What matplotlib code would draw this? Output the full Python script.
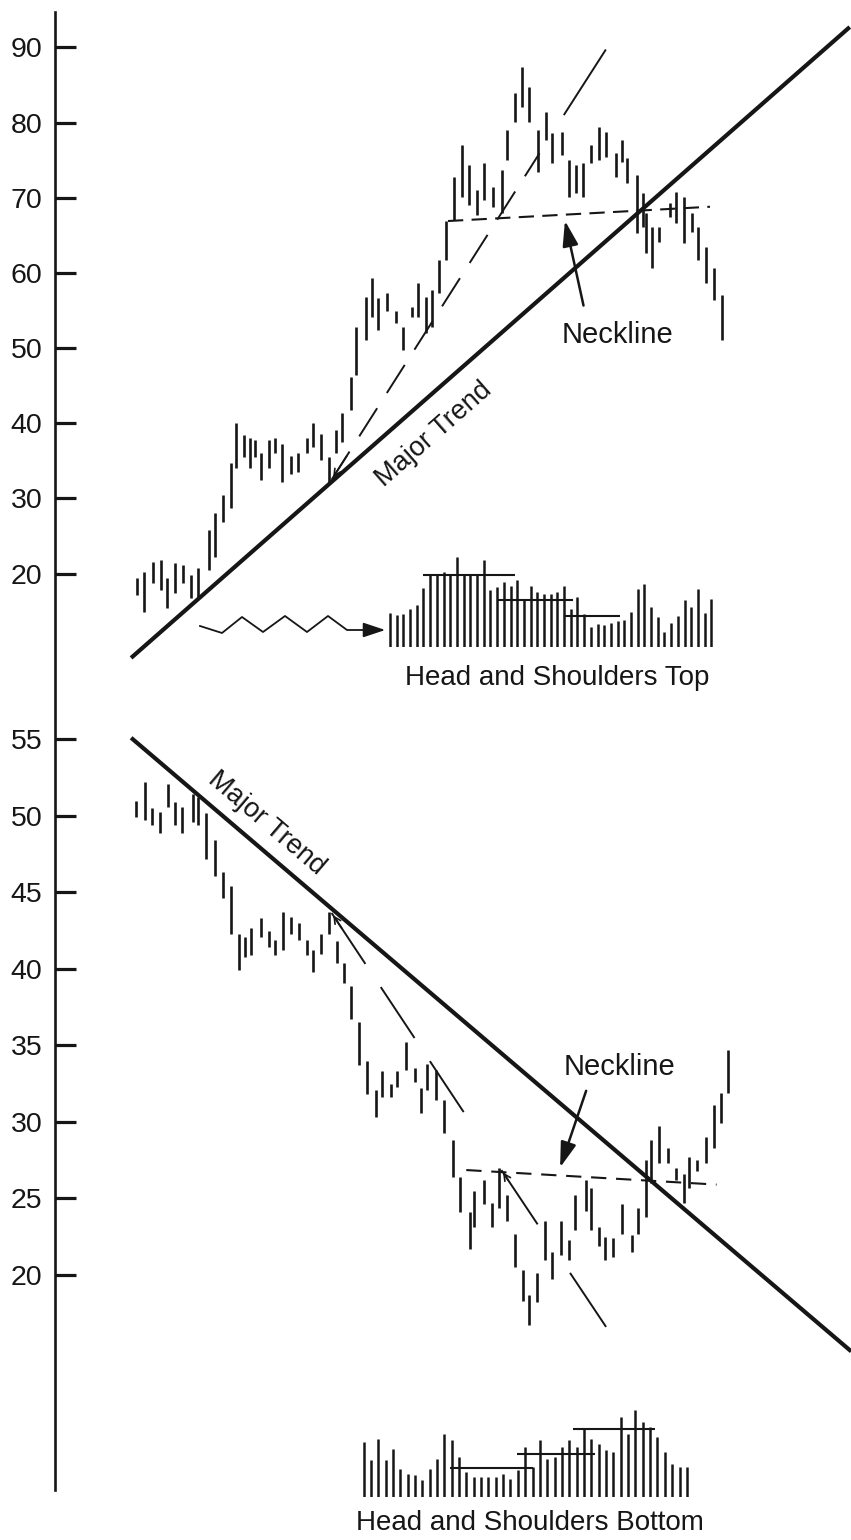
import matplotlib
matplotlib.use("Agg")
import matplotlib.pyplot as plt
from matplotlib.lines import Line2D
from matplotlib.patches import FancyArrowPatch

plt.rcParams['font.family'] = ['Liberation Sans', 'DejaVu Sans']
plt.rcParams['lines.scale_dashes'] = False

INK = '#161616'
W, H = 851, 1540

# ---- head and shoulders top: daily bars (day, high, low) ----
top_day = [1.2, 2.2, 3.4, 4.5, 5.3, 6.4, 7.5, 8.6, 9.6, 11.0, 11.9, 13.0, 14.0, 14.8, 15.8,
           16.6, 17.3, 18.2, 19.2, 20.1, 21.0, 22.2, 23.2, 24.4, 25.3, 26.4, 27.4, 28.4, 29.2,
           30.4, 31.1, 32.5, 33.3, 34.2, 35.3, 36.6, 37.5, 38.8, 39.6, 40.7, 41.5, 42.5, 43.4,
           44.5, 45.6, 46.6, 47.7, 48.6, 49.9, 51.1, 51.8, 52.9, 53.8, 54.8, 56.0, 57.1, 57.9,
           59.3, 60.3, 61.2, 62.1, 63.3, 64.4, 65.3, 66.6, 67.5, 68.2, 69.5, 70.4, 70.8, 71.6,
           72.6, 74.1, 74.9, 76.0, 77.0, 77.9, 79.0, 80.1, 81.2]
top_high = [19.4, 20.2, 21.6, 21.8, 19.4, 21.4, 21.2, 19.8, 20.8, 25.8, 28.1, 30.5, 34.7, 40.0, 38.4,
            38.1, 37.8, 36.0, 37.8, 38.1, 37.3, 35.7, 36.0, 38.1, 40.1, 38.6, 35.5, 39.1, 41.4,
            46.2, 52.8, 56.8, 59.3, 56.6, 57.3, 55.0, 52.8, 55.5, 58.6, 56.8, 57.7, 61.7, 66.9,
            72.8, 77.0, 74.3, 71.0, 74.6, 71.4, 73.7, 79.0, 83.9, 87.4, 84.7, 79.0, 81.4, 78.6,
            78.7, 75.0, 74.3, 74.6, 77.0, 79.4, 78.7, 75.9, 77.7, 75.3, 73.0, 70.6, 68.0, 66.1,
            66.1, 69.3, 70.8, 70.1, 68.0, 66.1, 63.4, 60.6, 57.1]
top_low = [17.2, 14.9, 18.8, 17.8, 15.4, 17.4, 18.8, 16.8, 16.9, 20.5, 22.2, 26.9, 28.7, 34.0, 35.5,
           34.0, 35.5, 32.5, 34.0, 36.0, 32.2, 33.3, 33.5, 36.0, 36.8, 35.1, 32.2, 36.0, 37.5,
           41.8, 46.4, 51.1, 54.1, 52.4, 55.0, 53.3, 49.7, 54.1, 54.1, 52.0, 52.8, 57.3, 61.7,
           67.0, 70.1, 69.0, 67.7, 69.7, 68.8, 68.0, 75.0, 80.1, 82.1, 80.1, 73.4, 77.7, 74.6,
           75.7, 70.1, 70.6, 70.1, 74.6, 75.0, 75.4, 72.8, 74.8, 72.0, 65.3, 66.1, 62.6, 60.6,
           64.1, 67.4, 66.6, 64.0, 65.4, 61.7, 58.7, 56.4, 51.1]
top_ticks = [20, 30, 40, 50, 60, 70, 80, 90]

top_trend_day, top_trend_px = [0.4, 98.6], [8.8, 92.7]
top_fast_day, top_fast_px = [27.8, 56.2], [32.5, 75.9]
top_fast2_day, top_fast2_px = [59.6, 65.2], [81.1, 89.6]
top_neck_day, top_neck_px = [43.7, 79.5], [66.9, 68.8]

top_vol = [34, 32, 33, 38, 42, 59, 73, 73, 75, 73, 90, 73, 72, 73, 87, 57, 60, 65, 61, 67,
           47, 61, 55, 53, 53, 55, 61, 38, 50, 33, 20, 23, 22, 24, 26, 27, 35, 58, 63, 40,
           30, 15, 24, 31, 47, 40, 58, 34, 48]
top_vol_avg = [(4.9, 18.7, 71.7), (16.1, 27.4, 47.3), (26.2, 34.4, 31.3)]

# ---- head and shoulders bottom ----
bot_day = [1.1, 2.3, 3.3, 4.4, 5.5, 6.4, 7.3, 8.9, 9.6, 10.7, 11.9, 13.0, 14.0, 15.1, 16.0,
           16.8, 18.1, 19.2, 20.1, 21.2, 22.2, 23.3, 24.4, 25.3, 26.4, 27.4, 28.5, 29.5, 30.5,
           31.5, 32.6, 33.8, 34.7, 35.9, 36.8, 37.9, 39.2, 40.0, 40.8, 42.1, 43.2, 44.4, 45.3,
           46.7, 47.3, 48.6, 49.7, 50.7, 51.8, 52.9, 54.0, 54.8, 55.9, 57.0, 57.9, 59.2, 60.3,
           61.0, 62.5, 63.3, 64.4, 65.2, 66.3, 67.5, 68.8, 69.7, 70.7, 71.5, 72.5, 73.7, 74.9,
           76.0, 76.7, 77.7, 78.9, 80.0, 81.0, 81.9]
bot_high = [51.0, 52.2, 50.5, 50.25, 52.1, 50.9, 50.6, 51.4, 51.2, 50.2, 48.4, 46.3, 45.4, 42.3, 42.1,
            42.7, 43.3, 42.5, 41.9, 43.7, 43.4, 43.0, 41.9, 41.2, 42.3, 43.7, 41.8, 40.4, 38.9,
            36.5, 34.0, 32.1, 33.3, 32.5, 33.3, 35.2, 33.5, 32.2, 33.8, 33.4, 31.4, 28.8, 26.4,
            24.1, 25.5, 26.2, 24.7, 27.0, 25.2, 22.7, 20.3, 18.7, 20.1, 23.5, 21.5, 23.5, 22.3,
            25.2, 26.2, 25.7, 23.1, 22.5, 22.4, 24.6, 22.6, 24.4, 27.5, 28.8, 29.7, 28.3, 27.0,
            26.6, 27.7, 27.5, 29.0, 31.1, 31.9, 34.7]
bot_low = [49.9, 49.7, 49.4, 48.9, 50.6, 49.4, 48.9, 49.6, 49.4, 47.2, 46.1, 44.6, 42.3, 39.9, 40.8,
           40.9, 42.1, 41.4, 40.9, 41.2, 42.3, 41.9, 40.9, 39.8, 41.0, 42.3, 40.4, 39.1, 36.7,
           33.7, 31.8, 30.3, 31.6, 31.6, 32.3, 33.4, 32.6, 30.6, 32.1, 31.4, 29.3, 26.4, 24.1,
           21.7, 23.1, 24.6, 23.1, 24.4, 23.5, 20.5, 18.3, 16.7, 18.2, 21.0, 19.7, 21.3, 21.0,
           22.9, 24.2, 22.9, 21.9, 21.0, 21.2, 22.7, 21.5, 22.7, 23.8, 26.0, 27.3, 27.3, 26.2,
           24.7, 25.7, 26.8, 27.3, 28.3, 29.9, 31.9]
bot_ticks = [20, 25, 30, 35, 40, 45, 50, 55]

bot_trend_day, bot_trend_px = [0.4, 98.8], [55.1, 15.0]
bot_fast1_day, bot_fast1_px = [27.8, 47.7], [43.65, 29.3]
bot_fast2_day, bot_fast2_px = [51.0, 65.3], [26.85, 16.6]
bot_neck_day, bot_neck_px = [46.2, 80.4], [26.85, 25.9]

bot_vol = [55, 37, 58, 37, 48, 28, 23, 22, 17, 28, 38, 63, 57, 40, 25, 20, 20, 20, 20, 23,
           18, 27, 50, 30, 57, 38, 40, 50, 57, 50, 68, 58, 53, 47, 45, 80, 63, 87, 75, 70,
           60, 45, 33, 30, 30]
bot_vol_avg = [(11.8, 23.0, 29.3), (20.9, 31.5, 43.3), (28.5, 39.7, 68.3)]

# wavy pointer toward the volume (figure pixels)
wave_x = [200, 222, 242, 263, 285, 307, 328, 347, 365]
wave_y = [626, 633, 617, 632, 616, 632, 616, 630, 630]


def frac(x, y):
    return x / W, 1 - y / H


fig = plt.figure(figsize=(W / 100, H / 100), dpi=100)
fig.patch.set_facecolor('white')

XLIM = (-10.0, 98.77)
ax1 = fig.add_axes([55 / W, 1 - 700 / H, 1 - 55 / W, 688 / H])
ax2 = fig.add_axes([55 / W, 50 / H, 1 - 55 / W, 790 / H])
ax1.set_ylim(3.2, 94.7)
ax2.set_ylim(5.94, 57.57)

for ax, ticks in ((ax1, top_ticks), (ax2, bot_ticks)):
    ax.set_xlim(*XLIM)
    ax.set_facecolor('none')
    for s in ('top', 'right', 'bottom', 'left'):
        ax.spines[s].set_visible(False)
    ax.set_xticks([])
    ax.set_yticks(ticks)
    ax.tick_params(axis='y', direction='in', length=15, width=2.3, pad=9,
                   labelsize=20.5, colors=INK)

# one continuous vertical axis line for both panels
fig.add_artist(Line2D([55 / W, 55 / W], [1 - 12 / H, 1 - 1490 / H], color=INK, lw=1.9,
                      transform=fig.transFigure))

# price bars
ax1.vlines(top_day, top_low, top_high, color=INK, lw=1.9)
ax2.vlines(bot_day, bot_low, bot_high, color=INK, lw=1.9)

# trend lines
ax1.plot(top_trend_day, top_trend_px, color=INK, lw=3.0, solid_capstyle='butt')
ax2.plot(bot_trend_day, bot_trend_px, color=INK, lw=3.0, solid_capstyle='butt')

ax1.plot(top_fast_day, top_fast_px, color=INK, lw=1.4, dashes=(24, 13))
ax1.plot(top_fast2_day, top_fast2_px, color=INK, lw=1.4)
ax1.plot(top_neck_day, top_neck_px, color=INK, lw=1.5, dashes=(11, 6))

ax2.plot(bot_fast1_day, bot_fast1_px, color=INK, lw=1.4, dashes=(44, 20))
ax2.plot(bot_fast2_day, bot_fast2_px, color=INK, lw=1.4, dashes=(47, 42))
ax2.plot(bot_neck_day, bot_neck_px, color=INK, lw=1.5, dashes=(11, 7))

# small arrowheads where the fast lines start
for ax, d, p in ((ax1, top_fast_day, top_fast_px), (ax2, bot_fast1_day, bot_fast1_px),
                 (ax2, bot_fast2_day, bot_fast2_px)):
    ax.annotate('', xy=(d[0], p[0]), xytext=(d[0] + (d[1] - d[0]) * 0.08, p[0] + (p[1] - p[0]) * 0.08),
                arrowprops=dict(arrowstyle='->', color=INK, lw=1.2, mutation_scale=12))

# neckline labels
arrow_kw = dict(arrowstyle='-|>,head_length=0.9,head_width=0.28', color=INK, lw=1.8,
                mutation_scale=17)
ax1.annotate('', xy=(59.6, 67.3), xytext=(62.3, 55.3), arrowprops=arrow_kw)
ax1.text(66.9, 51.7, 'Neckline', fontsize=21, color=INK, ha='center', va='center')
ax2.annotate('', xy=(58.9, 26.85), xytext=(62.7, 32.2), arrowprops=arrow_kw)
ax2.text(67.2, 33.6, 'Neckline', fontsize=21, color=INK, ha='center', va='center')

ax1.text(41.8, 38.5, 'Major Trend', fontsize=19.5, color=INK, rotation=41.3,
         ha='center', va='center', rotation_mode='anchor')
ax2.text(18.9, 49.5, 'Major Trend', fontsize=19.5, color=INK, rotation=-40.5,
         ha='center', va='center', rotation_mode='anchor')

# wavy pointer
wx, wy = zip(*[frac(x, y) for x, y in zip(wave_x, wave_y)])
fig.add_artist(Line2D(wx, wy, color=INK, lw=1.3, transform=fig.transFigure))
fig.add_artist(FancyArrowPatch(frac(362, 630), frac(388, 630),
               arrowstyle='-|>,head_length=0.9,head_width=0.3', mutation_scale=15,
               color=INK, lw=1.3, transform=fig.transFigure))


# volume panels
def volume(rect, vol, avg, ytop):
    axv = fig.add_axes(rect)
    idx = list(range(len(vol)))
    axv.vlines(idx, 0, vol, color=INK, lw=1.8)
    for a, b, lvl in avg:
        axv.hlines(lvl, a, b, color=INK, lw=1.5)
    axv.set_xlim(-0.75, len(vol) - 0.3)
    axv.set_ylim(0, ytop)
    axv.axis('off')
    return axv


x0, y0 = frac(385, 647)
x1, y1 = frac(716, 540)
volume([x0, y0, x1 - x0, y1 - y0], top_vol, top_vol_avg, 107)
x0, y0 = frac(358, 1497)
x1, y1 = frac(692, 1400)
volume([x0, y0, x1 - x0, y1 - y0], bot_vol, bot_vol_avg, 97)

fig.text(*frac(557, 678), 'Head and Shoulders Top', fontsize=20, color=INK,
         ha='center', va='center')
fig.text(*frac(530, 1523), 'Head and Shoulders Bottom', fontsize=20, color=INK,
         ha='center', va='center')

fig.savefig('out.png', dpi=100, facecolor='white')
